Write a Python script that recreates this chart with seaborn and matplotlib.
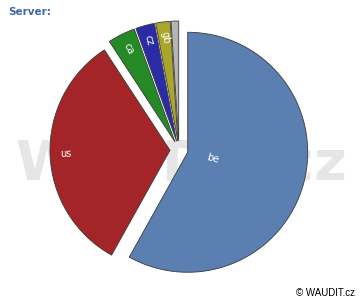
import matplotlib
matplotlib.use("Agg")
import matplotlib.pyplot as plt
import seaborn as sns
import numpy as np

categories = ["be", "us", "ca", "cz", "gb", ""]
values = [58.1, 32.7, 3.7, 2.55, 1.94, 1.02]
colors = ["#5a7fb0", "#a32528", "#258a25", "#2b2ba6", "#a9a62b", "#b5b5b5"]

sns.set_theme(style="white")
plt.rcParams["font.family"] = ["DejaVu Sans"]

fig = plt.figure(figsize=(3.6, 3.0), dpi=100)
fig.patch.set_facecolor("white")
ax = fig.add_axes([0, 0, 1, 1])

# watermark
ax.text(2 / 120, -30 / 120, "WAUDIT.cz", ha="center", va="baseline", fontsize=40.5,
        fontweight="bold", color="#e6e6e6", family="DejaVu Sans", zorder=0)

wedges, texts = ax.pie(values, labels=categories, colors=colors, startangle=90,
                       counterclock=False, explode=[0.075] * len(values),
                       labeldistance=0.87, radius=1.0,
                       wedgeprops=dict(edgecolor="#3a3a3a", linewidth=0.6),
                       textprops=dict(color="white", fontsize=7))
for w in wedges:
    w.set_zorder(2)

for i, (w, t) in enumerate(zip(wedges, texts)):
    mid = np.deg2rad((w.theta1 + w.theta2) / 2)
    cx, cy = w.center
    d = 0.22 if i == 0 else 0.87
    t.set_position((cx + d * np.cos(mid), cy + d * np.sin(mid)))
    ang = np.rad2deg(mid) % 360
    if 90 < ang < 270:
        ang -= 180
    if ang > 180:
        ang -= 360
    t.set_rotation(ang)
    t.set_ha("center")
    t.set_va("center")
    t.set_rotation_mode("anchor")
    t.set_zorder(3)

ax.set_aspect("auto")
ax.set_xlim(-179 / 120, (360 - 179) / 120)
ax.set_ylim(-150 / 120, 150 / 120)
ax.axis("off")

fig.text(8 / 360, 1 - 12 / 300, "Server:", ha="left", va="center", fontsize=7.5,
         fontweight="bold", color="#3d6aa6")
fig.text(355 / 360, 1 - 293 / 300, "© WAUDIT.cz", ha="right", va="center",
         fontsize=7, color="black", family="Liberation Sans")

fig.savefig("out.png", dpi=100)
